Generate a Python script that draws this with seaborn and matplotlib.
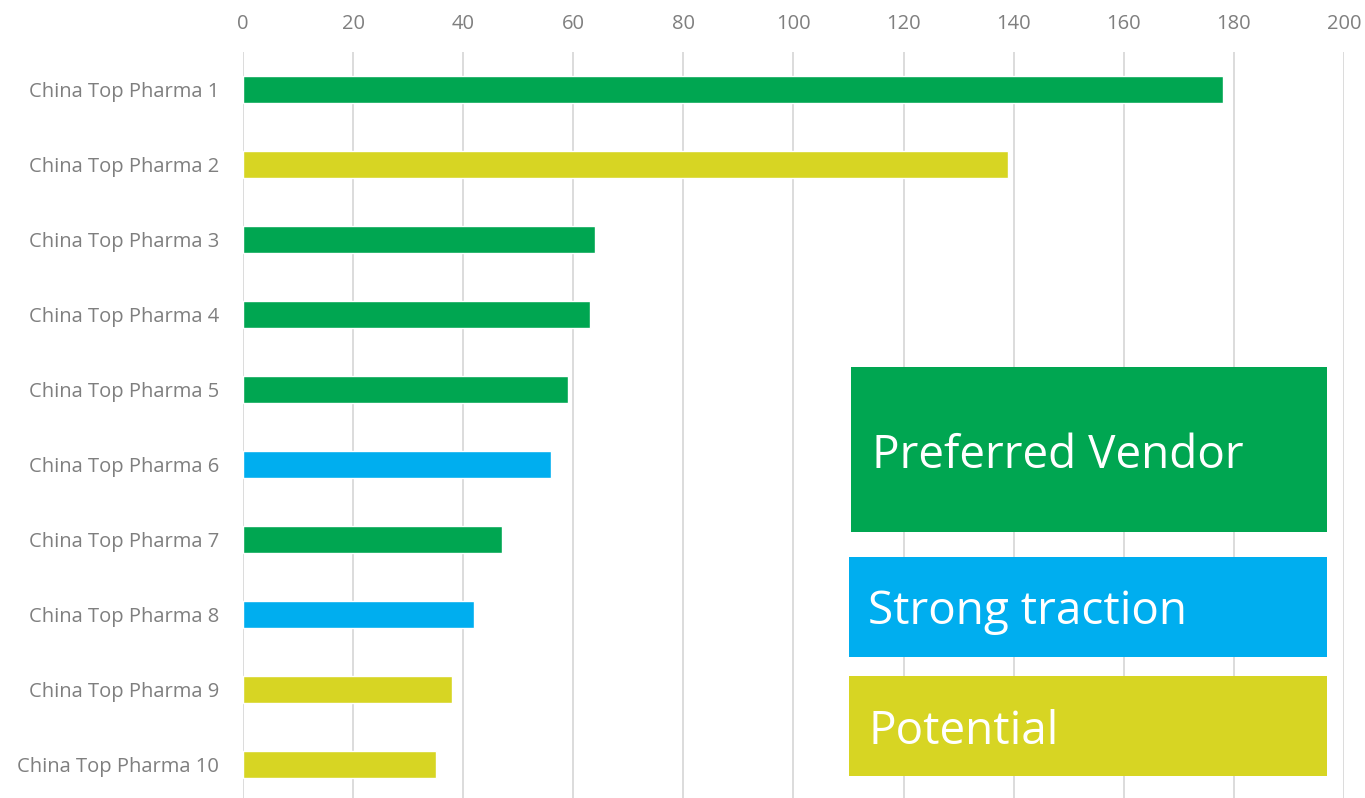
import matplotlib
matplotlib.use("Agg")
import matplotlib.pyplot as plt
import seaborn as sns
import pandas as pd
from matplotlib.patches import Rectangle

# data
companies = ["China Top Pharma %d" % i for i in range(1, 11)]
values = [178, 139, 64, 63, 59, 56, 47, 42, 38, 35]
status = ["Preferred Vendor", "Potential", "Preferred Vendor", "Preferred Vendor",
          "Preferred Vendor", "Strong traction", "Preferred Vendor", "Strong traction",
          "Potential", "Potential"]
x_ticks = [0, 20, 40, 60, 80, 100, 120, 140, 160, 180, 200]

colors = {"Preferred Vendor": "#00A651", "Strong traction": "#00AEEF", "Potential": "#D7D523"}

df = pd.DataFrame({"company": companies, "value": values, "status": status})

sns.set_theme(style="white")
plt.rcParams["font.family"] = ["Open Sans", "DejaVu Sans"]

fig = plt.figure(figsize=(13.65, 7.98), dpi=100)
ax = fig.add_axes([0.178, 0.0, 0.8066, 0.9348])

sns.barplot(data=df, y="company", x="value", hue="status", palette=colors,
            orient="h", width=0.36, dodge=False, legend=False, saturation=1, ax=ax)

ax.set_xlim(0, 200)
ax.set_ylim(9.45, -0.5)
ax.set_xticks(x_ticks)
ax.xaxis.set_ticks_position("top")
ax.xaxis.set_label_position("top")
ax.tick_params(axis="x", colors="#7f7f7f", labelsize=14.5, length=0, pad=13)
ax.tick_params(axis="y", colors="#7f7f7f", labelsize=14.5, length=0, pad=17)
ax.set_xlabel("")
ax.set_ylabel("")
ax.grid(axis="x", color="#d9d9d9", linewidth=1.3)
ax.set_axisbelow(True)
for s in ax.spines.values():
    s.set_visible(False)

# legend boxes
boxes = [
    ("Preferred Vendor", 0.6234, 0.3333, 0.3487, 0.2068, 0.639, 0.428),
    ("Strong traction", 0.6220, 0.1767, 0.3502, 0.1253, 0.636, 0.233),
    ("Potential", 0.6220, 0.0276, 0.3502, 0.1253, 0.636, 0.083),
]
for label, x0, y0, w, h, tx, ty in boxes:
    fig.patches.append(Rectangle((x0, y0), w, h, transform=fig.transFigure,
                                 facecolor=colors[label], edgecolor="none", zorder=5))
    fig.text(tx, ty, label, color="white", fontsize=33, va="center", ha="left", zorder=6)

fig.savefig("out.png", dpi=100)
